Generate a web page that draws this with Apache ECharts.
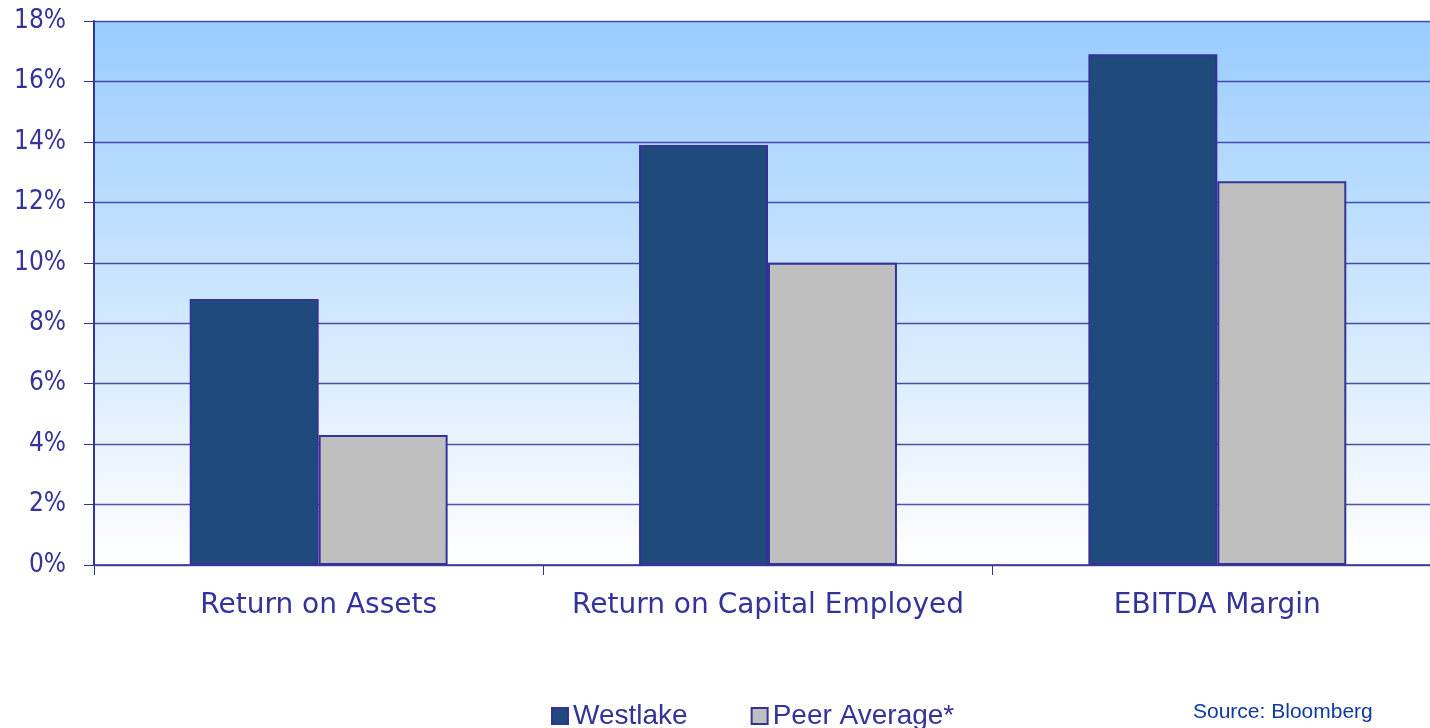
<!DOCTYPE html>
<html>
<head>
<meta charset="utf-8">
<script src="https://cdn.jsdelivr.net/npm/echarts@6/dist/echarts.min.js"></script>
<style>
  html, body { margin: 0; padding: 0; background: #fff; overflow: hidden; }
  #main { width: 1450px; height: 728px; }
</style>
</head>
<body>
<div id="main"></div>
<script>
var categories = ['Return on Assets', 'Return on Capital Employed', 'EBITDA Margin'];
var westlake = [8.8, 13.9, 16.9];
var peerAvg = [4.3, 10.0, 12.7];
var yTicks = [0, 2, 4, 6, 8, 10, 12, 14, 16, 18];

// canvas is a bit wider than the window: the plot runs past the right edge like the original
var chart = echarts.init(document.getElementById('main'));

var axisColor = '#333399';

chart.setOption({
    animation: false,
    grid: {
        left: 94, width: 1348, top: 21, height: 544,
        show: true, borderWidth: 0,
        backgroundColor: new echarts.graphic.LinearGradient(0, 0, 0, 1, [
            {offset: 0, color: '#99CCFF'},
            {offset: 1, color: '#FFFFFF'}
        ])
    },
    legend: {
        top: 697, left: 546,
        icon: 'rect',
        itemWidth: 16, itemHeight: 16, itemGap: 63,
        textStyle: {fontFamily: 'Liberation Sans', fontSize: 28, color: axisColor, padding: [2, 0, 0, 0]},
        data: ['Westlake', 'Peer Average*']
    },
    graphic: [{
        type: 'text', left: 1193, top: 702,
        style: {text: 'Source: Bloomberg', font: '21px "Liberation Sans"', fill: '#0F3A9E'}
    }],
    xAxis: {
        type: 'category', data: categories,
        axisLine: {lineStyle: {color: axisColor, width: 1.5}},
        axisTick: {show: true, interval: 0, length: 10, lineStyle: {color: axisColor}},
        axisLabel: {interval: 0, fontFamily: 'DejaVu Sans', fontSize: 28, color: axisColor, margin: 27}
    },
    yAxis: {
        type: 'value', min: yTicks[0], max: yTicks[yTicks.length - 1], interval: 2,
        axisLine: {show: true, lineStyle: {color: axisColor, width: 2}},
        axisTick: {show: true, length: 10, lineStyle: {color: axisColor}},
        splitLine: {lineStyle: {color: axisColor, width: 1.3, opacity: 0.85}},
        axisLabel: {fontFamily: '"DejaVu Sans Condensed", "DejaVu Sans"', fontSize: 26, color: axisColor, margin: 28,
            formatter: function (v) { return v + '%'; }}
    },
    series: [{
        name: 'Westlake', type: 'bar', data: westlake,
        barGap: '0%', barCategoryGap: '42.6%',
        itemStyle: {color: '#1F4A7C', borderColor: axisColor, borderWidth: 2}
    }, {
        name: 'Peer Average*', type: 'bar', data: peerAvg,
        itemStyle: {color: '#BFBFBF', borderColor: axisColor, borderWidth: 2}
    }]
});
</script>
</body>
</html>
